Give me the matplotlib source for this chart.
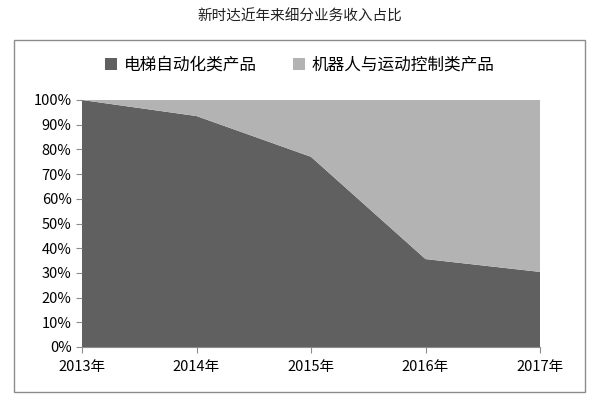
import matplotlib
matplotlib.use("Agg")
import matplotlib.pyplot as plt
from matplotlib.patches import Rectangle
import numpy as np

plt.rcParams['font.family'] = ['Noto Sans CJK SC', 'DejaVu Sans']

years = ["2013年", "2014年", "2015年", "2016年", "2017年"]
elevator = [1.00, 0.935, 0.77, 0.356, 0.304]
robot = [0.0, 0.065, 0.23, 0.644, 0.696]
series_names = ["电梯自动化类产品", "机器人与运动控制类产品"]
title = "新时达近年来细分业务收入占比"

fig = plt.figure(figsize=(6.0, 4.01), dpi=100)
fig.patches.append(Rectangle((14/600, 1-392/401), (585-14)/600, (392-40)/401,
                             transform=fig.transFigure, fill=False,
                             edgecolor='#8c8c8c', linewidth=1.0))
ax = fig.add_axes([82/600, 1-347/401, (540-82)/600, (347-100)/401])
x = np.arange(len(years))
ax.stackplot(x, elevator, robot, colors=['#606060', '#b3b3b3'], labels=series_names)
ax.set_xlim(0, len(years)-1)
ax.set_ylim(0, 1)
ax.set_yticks(np.arange(0, 1.01, 0.1))
ax.set_yticklabels([f"{int(round(v*100))}%" for v in np.arange(0, 1.01, 0.1)], fontsize=10.5)
ax.set_xticks(x)
ax.set_xticklabels(years, fontsize=10.5)
for s in ['top', 'right']:
    ax.spines[s].set_visible(False)
ax.spines['left'].set_visible(False)
ax.spines['bottom'].set_color('#8c8c8c')
ax.tick_params(axis='both', colors='#8c8c8c', labelcolor='black', length=4)
ax.tick_params(axis='x', pad=5)

fig.text(0.5, 1-17/401, title, ha='center', va='center', fontsize=10.5, color='#222222')
handles, labels = ax.get_legend_handles_labels()
fig.legend(handles, labels, loc='center', bbox_to_anchor=(0.5, 1-65/401), ncol=2,
           frameon=False, fontsize=12, handlelength=0.7, handleheight=0.7,
           columnspacing=2.2, handletextpad=0.4)

fig.savefig("out.png", dpi=100)
